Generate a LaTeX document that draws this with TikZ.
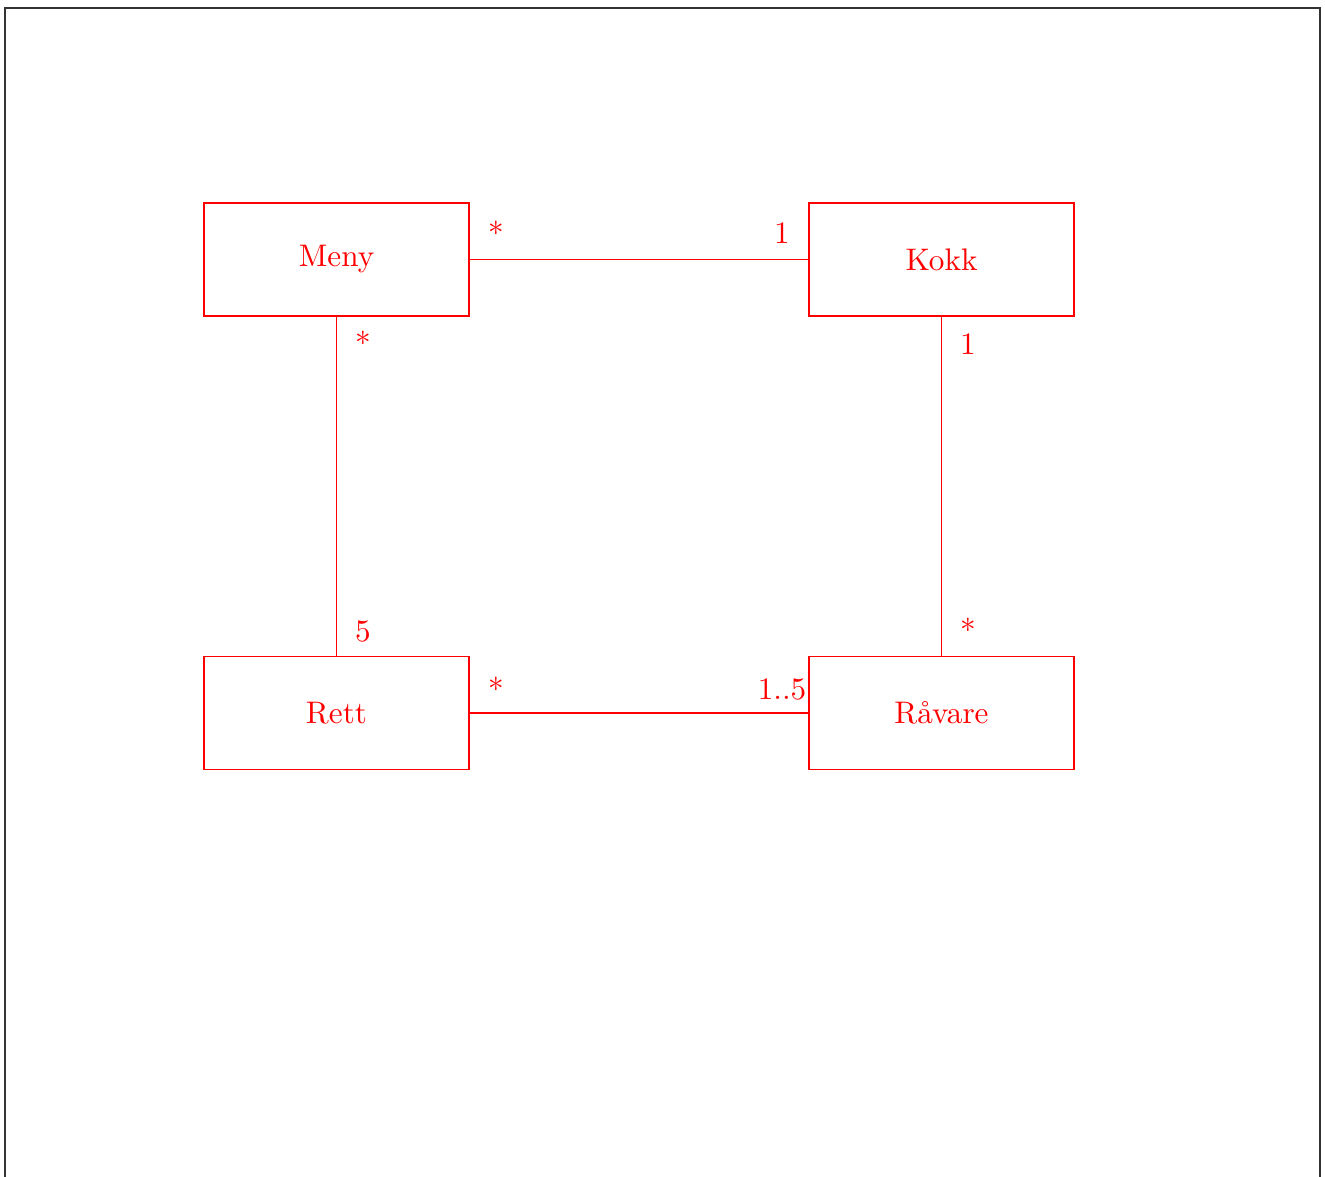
\documentclass[tikz,border=0pt]{standalone}
\usepackage{fontspec}
\begin{document}
\begin{tikzpicture}[x={(0.3367pt,0)}, y={(0,-0.3367pt)},
  every node/.style={font=\fontsize{10.5pt}{12pt}\selectfont},
  cls/.style={draw=red, text=red, line width=0.4pt, rectangle,
    minimum width=89.2pt, minimum height=38pt, inner sep=0pt},
  assoc/.style={draw=red, line width=0.4pt},
  mult/.style={text=red, anchor=base, inner sep=0pt}]
  \useasboundingbox (0,0) rectangle (1325,1176);
  % page frame
  \draw[line width=0.5pt, black!80] (5,1190) -- (5,8) -- (1320,8) -- (1320,1190);

  % classes
  \node[cls] (meny)   at (336.5,259.5) {Meny};
  \node[cls] (kokk)   at (941.5,259.5) {Kokk};
  \node[cls] (rett)   at (336.5,713)   {Rett};
  \node[cls] (ravare) at (941.5,713)   {Råvare};

  % associations
  \draw[assoc] (meny) -- (kokk);
  \draw[assoc] (meny) -- (rett);
  \draw[assoc] (kokk) -- (ravare);
  \draw[assoc] (rett) -- (ravare);

  % multiplicities
  \node[mult] (m1) at (496,244) {*};
  \node[mult] (m2) at (782,243.5) {1};
  \node[mult] (m3) at (363,354) {*};
  \node[mult] (m4) at (363,641) {5};
  \node[mult] (m5) at (968,354) {1};
  \node[mult] (m6) at (968,641) {*};
  \node[mult] (m7) at (496,700) {*};
  \node[mult] (m8) at (782,699) {1..5};
\end{tikzpicture}
\end{document}
